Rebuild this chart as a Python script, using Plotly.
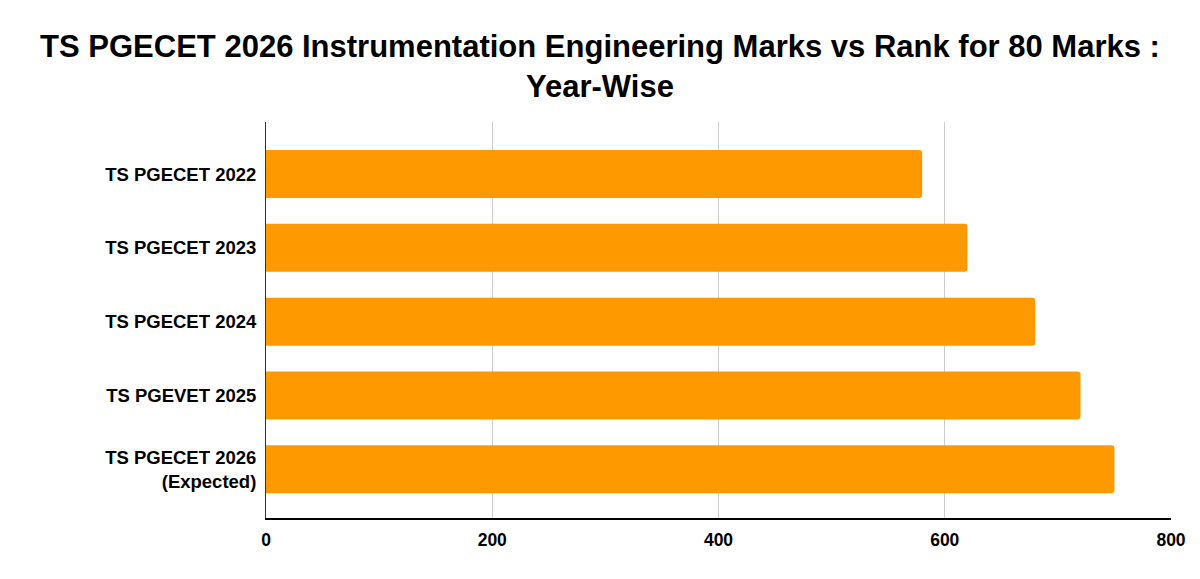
import plotly.graph_objects as go

categories = ["TS PGECET 2022", "TS PGECET 2023", "TS PGECET 2024", "TS PGEVET 2025", "TS PGECET 2026<br>(Expected)"]
ranks = [580, 620, 680, 720, 750]
x_ticks = [0, 200, 400, 600, 800]

fig = go.Figure(go.Bar(
    x=ranks, y=categories, orientation="h",
    marker=dict(color="#FF9900", cornerradius=3, line=dict(width=0)),
    width=0.65,
))

font_family = "Liberation Sans, Arial, sans-serif"
fig.update_layout(
    width=1200, height=579,
    paper_bgcolor="white", plot_bgcolor="white",
    margin=dict(l=266, r=29, t=122, b=61),
    title=dict(
        text="<b>TS PGECET 2026 Instrumentation Engineering Marks vs Rank for 80 Marks :<br>Year-Wise</b>",
        x=0.5, xanchor="center", xref="container", yref="container", y=1 - 57 / 579, yanchor="top",
        font=dict(family=font_family, size=31, color="#000000"),
    ),
    showlegend=False,
    bargap=0.35,
)
fig.update_xaxes(
    range=[0, 800], tickvals=x_ticks, ticktext=[f"<b>{v}</b>" for v in x_ticks],
    showgrid=True, gridcolor="#cccccc", gridwidth=1,
    showline=True, linecolor="#000000", linewidth=2,
    zeroline=False, ticks="outside", ticklen=5, tickcolor="rgba(0,0,0,0)",
    tickfont=dict(family=font_family, size=17.5, color="#000000"),
)
fig.update_yaxes(
    type="category", categoryorder="array", categoryarray=categories,
    range=[4.66, -0.705],
    tickvals=categories, ticktext=[f"<b>{c}</b>" for c in categories],
    showgrid=False, showline=True, linecolor="#333333", linewidth=1,
    ticks="outside", ticklen=5, tickcolor="rgba(0,0,0,0)",
    tickfont=dict(family=font_family, size=18.5, color="#000000"),
)

fig.write_html("out.html")
